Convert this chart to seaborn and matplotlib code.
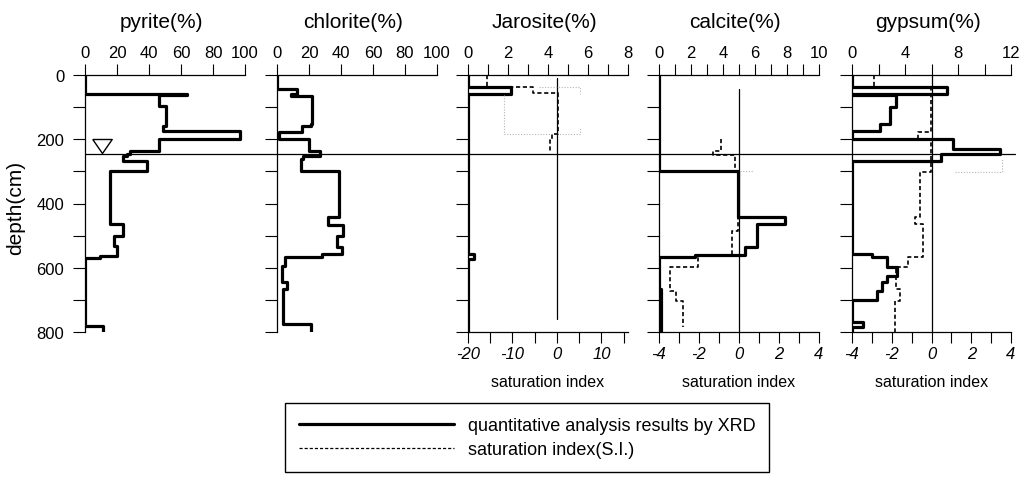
import numpy as np
import pandas as pd
import matplotlib
matplotlib.use("Agg")
import matplotlib.pyplot as plt
from matplotlib.lines import Line2D
import seaborn as sns

# ---------------- data ----------------
panel_titles = ["pyrite(%)", "chlorite(%)", "Jarosite(%)", "calcite(%)", "gypsum(%)"]
percent_max = [100, 100, 8, 10, 12]
si_limits = [None, None, (-20, 16), (-4, 4), (-4, 4)]
depth_max = 800

# XRD step profiles: layer top depth (cm) and value (%)
pyrite_top = [0, 60, 63, 98, 158, 175, 199, 236, 246, 252, 267, 298, 464, 502, 531, 562, 570, 780]
pyrite_pct = [0, 64, 46, 50.5, 49, 97, 46.5, 28, 26, 23.5, 39, 15.5, 24, 18, 20, 9.5, 0, 11]

chlorite_top = [0, 44, 60, 64, 152, 158, 176, 199, 236, 251, 262, 298, 443, 467, 500, 536,
                557, 568, 593, 645, 666, 775]
chlorite_pct = [0, 12.5, 9, 22, 21, 15.5, 1, 20, 27, 16.5, 15, 38.5, 32, 41.5, 37.5, 40.5,
                28, 5, 3, 6.5, 4, 21.5]

jarosite_top = [0, 38, 59, 557, 573]
jarosite_pct = [0, 2.15, 0, 0.28, 0]

calcite_top = [0, 300, 443, 465, 536, 560, 568, 666]
calcite_pct = [0, 4.95, 7.9, 6.1, 5.4, 2.25, 0, 0.15]

gypsum_top = [0, 38, 59, 63, 100, 152, 173, 199, 230, 246, 267, 557, 568, 598, 625, 645,
              671, 700, 770, 785]
gypsum_pct = [0, 7.2, 0, 3.3, 2.85, 2.1, 0, 7.65, 11.2, 6.75, 0, 1.5, 2.65, 3.4, 2.65, 2.25,
              1.9, 0, 0.8, 0]

# saturation index step profiles (top depth, SI), with bottom depth
jarosite_si_top = [0, 38, 56, 184, 201]
jarosite_si_val = [-15.8, -5.3, 0.2, -1.0, -1.5]
jarosite_si_bottom = 240

calcite_si_top = [199, 236, 249, 298, 485, 562, 598, 671, 702]
calcite_si_val = [-0.9, -1.28, -0.2, -0.05, -0.33, -2.03, -3.45, -3.15, -2.8]
calcite_si_bottom = 783

gypsum_si_top = [0, 38, 177, 199, 303, 443, 464, 567, 598, 666, 702]
gypsum_si_val = [-2.9, -0.05, -0.68, -0.05, -0.6, -0.82, -0.43, -1.18, -1.77, -1.6, -1.82]
gypsum_si_bottom = 800

# faint dotted traces (SI, depth)
jarosite_faint_si = [-4.0, 5.3, 5.3]
jarosite_faint_depth = [38, 38, 60]
jarosite_faint2_si = [-11.9, -11.9, 5.3, 5.3]
jarosite_faint2_depth = [62, 184, 184, 165]
calcite_faint_si = [0.05, 0.7]
calcite_faint_depth = [300, 300]
gypsum_faint_si = [1.2, 3.55, 3.55]
gypsum_faint_depth = [303, 303, 262]

# SI = 0 reference line depth span per SI panel
si_zero_span = [None, None, (10, 760), (45, 800), (0, 800)]

water_table_depth = 246
water_marker_pct = 10.5
water_marker_depth = 221

depth_label = "depth(cm)"
si_label = "saturation index"
legend_labels = ["quantitative analysis results by XRD", "saturation index(S.I.)"]

xrd_tops = [pyrite_top, chlorite_top, jarosite_top, calcite_top, gypsum_top]
xrd_vals = [pyrite_pct, chlorite_pct, jarosite_pct, calcite_pct, gypsum_pct]
si_profiles = [None, None,
               (jarosite_si_top, jarosite_si_val, jarosite_si_bottom),
               (calcite_si_top, calcite_si_val, calcite_si_bottom),
               (gypsum_si_top, gypsum_si_val, gypsum_si_bottom)]
faint_traces = [[], [],
                [(jarosite_faint_si, jarosite_faint_depth), (jarosite_faint2_si, jarosite_faint2_depth)],
                [(calcite_faint_si, calcite_faint_depth)],
                [(gypsum_faint_si, gypsum_faint_depth)]]


def steps(tops, vals, bottom):
    edges = list(tops[1:]) + [bottom]
    d = np.column_stack([tops, edges]).ravel()
    v = np.repeat(np.asarray(vals, dtype=float), 2)
    return pd.DataFrame({"value": v, "depth": d})


# ---------------- style ----------------
sns.set_theme(style="white")
plt.rcParams.update({
    "axes.edgecolor": "black", "text.color": "black", "axes.labelcolor": "black",
    "xtick.color": "black", "ytick.color": "black", "axes.linewidth": 0.9,
})
plt.rcParams["font.family"] = ["Liberation Sans", "DejaVu Sans"]

W, H = 1027, 489
top_px, bot_px = 76, 333
lefts = [85, 277, 468, 659, 852]
widths = [160, 160, 160, 160, 159]

top_major = [np.arange(0, 101, 20), np.arange(0, 101, 20), np.arange(0, 9, 2),
             np.arange(0, 11, 2), np.arange(0, 13, 4)]
top_minor = [[], [], np.arange(0, 9, 1), np.arange(0, 11, 1), np.arange(0, 13, 2)]
bot_major = [None, None, [-20, -10, 0, 10], [-4, -2, 0, 2, 4], [-4, -2, 0, 2, 4]]
bot_minor = [None, None, np.arange(-20, 16, 5), np.arange(-4, 5, 1), np.arange(-4, 5, 1)]

XRD_LW = 2.3
SI_LW = 1.2
SI_LS = (0, (2.5, 1.6))
TICK_FS = 12

fig = plt.figure(figsize=(W / 100, H / 100), dpi=100)
axes = []
for i in range(5):
    ax = fig.add_axes([lefts[i] / W, 1 - bot_px / H, widths[i] / W, (bot_px - top_px) / H])
    ax.set_facecolor("none")
    df = steps(xrd_tops[i], xrd_vals[i], depth_max)
    sns.lineplot(data=df, x="value", y="depth", sort=False, estimator=None, ax=ax,
                 color="black", linewidth=XRD_LW, legend=False, zorder=4)

    if si_profiles[i] is not None:
        ax2 = ax.twiny()
        ax2.set_facecolor("none")
        st, sv, sb = si_profiles[i]
        sns.lineplot(data=steps(st, sv, sb), x="value", y="depth", sort=False,
                     estimator=None, ax=ax2, color="black", linewidth=SI_LW,
                     linestyle=SI_LS, legend=False, zorder=3)
        z0, z1 = si_zero_span[i]
        sns.lineplot(x=[0, 0], y=[z0, z1], sort=False, estimator=None, ax=ax2,
                     color="black", linewidth=0.9, legend=False)
        for fx, fy in faint_traces[i]:
            sns.lineplot(x=fx, y=fy, sort=False, estimator=None, ax=ax2,
                         color="#b5b5b5", linewidth=0.8, linestyle=(0, (1, 1.5)),
                         legend=False)
        ax2.set_xlim(*si_limits[i])
        ax2.xaxis.tick_bottom()
        ax2.xaxis.set_label_position("bottom")
        ax2.set_xticks(bot_major[i])
        ax2.set_xticks(bot_minor[i], minor=True)
        ax2.set_xticklabels([f"{v:g}" for v in bot_major[i]], fontstyle="italic")
        for s in ["top", "left", "right"]:
            ax2.spines[s].set_visible(False)
        ax2.spines["bottom"].set_visible(True)
        ax2.tick_params(axis="x", which="both", bottom=True, top=False, labelbottom=True,
                        labeltop=False, direction="out", length=8, width=0.8, pad=2,
                        labelsize=TICK_FS)
        ax2.set_ylabel("")
        ax2.set_xlabel(si_label, fontsize=11.5)
        ax2.xaxis.set_label_coords(0.5, -(375 - bot_px) / (bot_px - top_px))

    # main (percent) axis on top
    ax.set_xlim(0, percent_max[i])
    ax.xaxis.tick_top()
    ax.xaxis.set_label_position("top")
    ax.set_xticks(top_major[i])
    ax.set_xticks(top_minor[i], minor=True)
    ax.set_xticklabels([f"{v:g}" for v in top_major[i]])
    ax.set_xlabel("")
    ax.set_ylabel("")
    ax.spines["right"].set_visible(False)
    ax.spines["bottom"].set_visible(False)
    ax.spines["top"].set_visible(True)
    ax.tick_params(axis="x", which="both", top=True, bottom=False, labeltop=True,
                   labelbottom=False, direction="out", length=8, width=0.8, pad=3,
                   labelsize=TICK_FS)
    ax.set_yticks(np.arange(0, 801, 200))
    ax.set_yticks(np.arange(100, 800, 200), minor=True)
    ax.tick_params(axis="y", which="both", left=True, right=False, direction="out",
                   length=9, width=0.8, pad=6, labelsize=TICK_FS, labelleft=(i == 0))
    ax.text(0.475, 1.21, panel_titles[i], transform=ax.transAxes, ha="center",
            va="center", fontsize=15)
    ax.set_ylim(depth_max, 0)
    axes.append(ax)

# water table line and marker
ax0 = axes[0]
ax0.plot([0, (1015 - lefts[0]) / widths[0]], [water_table_depth, water_table_depth],
         transform=ax0.get_yaxis_transform(), clip_on=False, color="black", lw=0.9)
tri = [(-1, 0.72), (1, 0.72), (0, -0.72), (-1, 0.72)]
ax0.plot([water_marker_pct], [water_marker_depth], marker=tri, ms=14, mfc="white",
         mec="black", mew=1.0, ls="none", clip_on=False)

fig.text(16 / W, 1 - 208 / H, depth_label, rotation=90, ha="center", va="center",
         fontsize=15)

handles = [Line2D([], [], color="black", lw=XRD_LW),
           Line2D([], [], color="black", lw=0.9, linestyle=(0, (2.5, 1.6)))]
leg = fig.legend(handles, legend_labels, loc="center",
                 bbox_to_anchor=(527 / W, 1 - 438.5 / H), frameon=True, fancybox=False,
                 edgecolor="black", framealpha=1, fontsize=13, handlelength=8.6,
                 handletextpad=0.75, borderpad=0.75, labelspacing=0.4)
leg.get_frame().set_linewidth(1.0)

fig.savefig("out.png", dpi=100)
